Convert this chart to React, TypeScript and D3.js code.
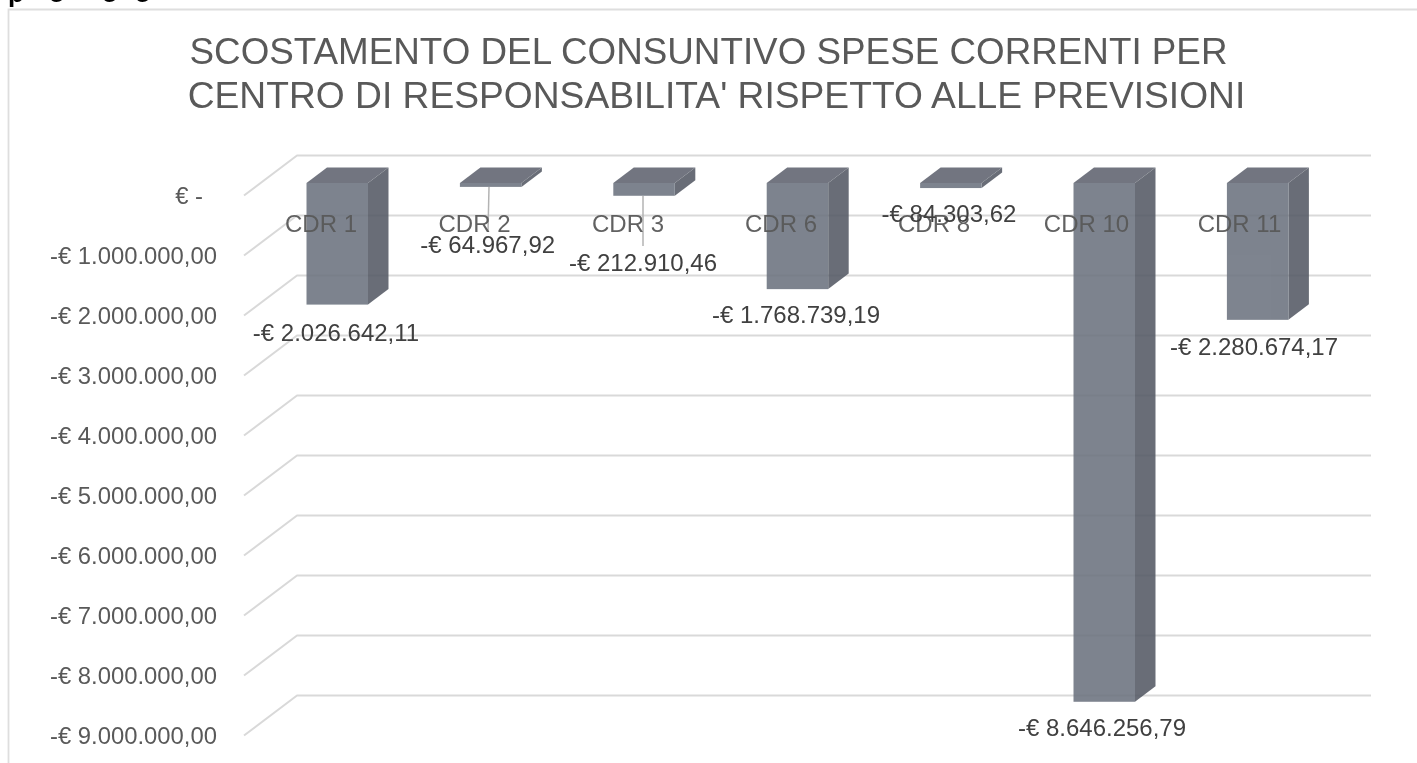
import React from 'react';
import * as d3 from 'd3';

const categories = ['CDR 1', 'CDR 2', 'CDR 3', 'CDR 6', 'CDR 8', 'CDR 10', 'CDR 11'];
const values = [-2026642.11, -64967.92, -212910.46, -1768739.19, -84303.62, -8646256.79, -2280674.17];
const valueLabels = ['-€ 2.026.642,11', '-€ 64.967,92', '-€ 212.910,46', '-€ 1.768.739,19', '-€ 84.303,62', '-€ 8.646.256,79', '-€ 2.280.674,17'];
const tickValues = [0, -1e6, -2e6, -3e6, -4e6, -5e6, -6e6, -7e6, -8e6, -9e6];
const tickLabels = ['€ -', '-€ 1.000.000,00', '-€ 2.000.000,00', '-€ 3.000.000,00', '-€ 4.000.000,00', '-€ 5.000.000,00', '-€ 6.000.000,00', '-€ 7.000.000,00', '-€ 8.000.000,00', '-€ 9.000.000,00'];
const titleLines = ['SCOSTAMENTO DEL CONSUNTIVO SPESE CORRENTI PER', "CENTRO DI RESPONSABILITA' RISPETTO ALLE PREVISIONI"];
const clippedGlyphs = ['p', 'g', 'g', 'g'];

const FONT = '"Liberation Sans", Arial, sans-serif';
const depthX = 20.5;
const depthY = 15.5;
const slantX = 53;
const slantY = 40;
const y = d3.scaleLinear().domain([0, -9e6]).range([155.5, 695.5]);
const bandW = 61.5;
const step = 153.4;
const left = (i: number) => 306.5 + i * step;

const labelX = [336, 487.7, 643, 796, 949, 1102, 1254];
const labelY = [341, 253, 271, 323, 222, 736, 355];
const catX = [321, 474.5, 628, 781, 934, 1086.5, 1239.5];
const catY = 232;
const leaders: ([number, number, number, number] | null)[] = [
  null,
  [489, 187, 488, 232],
  [643, 196, 643, 246],
  null, null, null, null,
];
const glyphX = [8, 49, 102, 135];
const glyphY = [1.5, -3.5, -3.5, -3.5];
const titleX = [708.5, 716.5];

const poly = (pts: [number, number][]) => pts.map(p => p.join(',')).join(' ');

export default function App() {
  const zero = y(0) + 27.5;
  return (
    <svg width={1417} height={763} style={{ position: 'absolute', left: 0, top: 0, background: '#fff', filter: 'blur(0.4px)' }} fontFamily={FONT}>
      <path d="M1417 9.5H8.5V763" fill="none" stroke="#dedede" strokeWidth={1.8} />
      {clippedGlyphs.map((g, i) => (
        <text key={i} x={glyphX[i]} y={glyphY[i]} fontWeight={700} fontSize={26} fill="#000">{g}</text>
      ))}
      {titleLines.map((t, i) => (
        <text key={i} x={titleX[i]} y={63.5 + i * 44} textAnchor="middle" fontSize={i === 0 ? 36.8 : 37.2} fill="#595959">{t}</text>
      ))}
      {tickValues.map((v, i) => (
        <g key={i}>
          <polyline points={poly([[1371, y(v)], [244 + slantX, y(v)], [244, y(v) + slantY]])} fill="none" stroke="#d9d9d9" strokeWidth={2} strokeLinejoin="round" />
          <text x={i === 0 ? 203 : 217} y={y(v) + 48.5} textAnchor="end" fontSize={23.85} fill="#595959">{tickLabels[i]}</text>
        </g>
      ))}
      {values.map((v, i) => {
        const xl = left(i);
        const xr = xl + bandW;
        const yt = zero;
        const yb = zero + (y(v) - y(0));
        return (
          <g key={categories[i]} opacity={0.88}>
            <polygon points={poly([[xl, yt], [xr, yt], [xr + depthX, yt - depthY], [xl + depthX, yt - depthY]])} fill="#5f636f" />
            <polygon points={poly([[xr, yt], [xr + depthX, yt - depthY], [xr + depthX, yb - depthY], [xr, yb]])} fill="#555a65" />
            <rect x={xl} y={yt} width={bandW} height={yb - yt} fill="#6c737f" />
          </g>
        );
      })}
      {leaders.map((l, i) => l && <line key={i} x1={l[0]} y1={l[1]} x2={l[2]} y2={l[3]} stroke="#b3b3b3" strokeWidth={1.5} />)}
      {categories.map((c, i) => (
        <text key={c} x={catX[i]} y={catY} textAnchor="middle" fontSize={24} fill="#595959" fillOpacity={0.95}>{c}</text>
      ))}
      {valueLabels.map((t, i) => (
        <text key={t} x={labelX[i]} y={labelY[i]} textAnchor="middle" fontSize={24} fill="#404040">{t}</text>
      ))}
    </svg>
  );
}
